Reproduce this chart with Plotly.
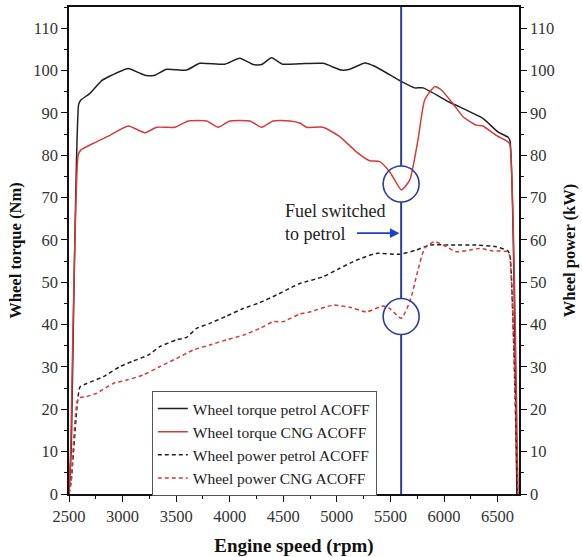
import plotly.graph_objects as go

# ---------------- data ----------------
rpm_tq_petrol = [2500, 2520, 2590, 2609, 2696, 2805, 2882, 3053, 3150, 3224, 3302, 3410, 3597, 3721,
                 3955, 4094, 4219, 4297, 4390, 4492, 4654, 4871, 5042, 5120, 5260, 5353, 5602,
                 5726, 5804, 6053, 6363, 6503, 6596, 6615, 6680]
tq_petrol = [0, 10, 92, 93.0, 94.6, 97.6, 98.7, 100.5, 99.5, 98.8, 98.9, 100.3, 100.1, 101.7,
             101.5, 102.9, 101.4, 101.4, 103.0, 101.5, 101.6, 101.7, 100.1, 100.3, 101.8, 101.0, 97.4,
             95.9, 95.9, 92.5, 88.7, 85.5, 84.3, 83.5, 0]

rpm_tq_cng = [2500, 2515, 2585, 2609, 2727, 2882, 3053, 3209, 3318, 3488, 3613, 3784, 3893, 4001,
              4188, 4297, 4405, 4561, 4654, 4716, 4871, 5027, 5182, 5307, 5400, 5493, 5602,
              5680, 5757, 5819, 5913, 5975, 6083, 6177, 6301, 6363, 6487, 6596, 6615, 6690]
tq_cng = [0, 10, 80, 81.2, 82.8, 84.7, 86.9, 85.3, 86.6, 86.6, 88.1, 88.1, 86.6, 88.1,
          88.1, 86.6, 88.1, 88.1, 87.6, 86.6, 86.6, 84.4, 80.8, 78.7, 78.5, 76.1, 71.8,
          74.1, 83.6, 93.0, 96.2, 95.4, 92.2, 89.1, 87.1, 86.9, 84.7, 83.2, 82.5, 0]

rpm_pw_petrol = [2500, 2520, 2580, 2603, 2665, 2820, 2976, 3100, 3239, 3348, 3504, 3597, 3691, 3815,
                 3970, 4125, 4281, 4437, 4561, 4654, 4871, 5027, 5182, 5368, 5585, 5741, 5866,
                 6052, 6301, 6487, 6596, 6615, 6685]
pw_petrol = [0, 3, 22, 25.3, 26.1, 27.7, 30.1, 31.4, 32.8, 34.8, 36.4, 37.0, 39.1, 40.3,
             42.0, 43.8, 45.2, 47.0, 48.6, 49.7, 51.3, 53.3, 55.2, 56.8, 56.6, 57.6, 58.8,
             58.8, 58.8, 58.4, 57.4, 56.5, 0]

rpm_pw_cng = [2500, 2520, 2587, 2665, 2758, 2913, 3038, 3193, 3348, 3504, 3659, 3815, 3970, 4125,
              4281, 4405, 4498, 4654, 4747, 4964, 5120, 5276, 5431, 5493, 5602, 5686, 5757,
              5819, 5913, 6021, 6114, 6239, 6332, 6456, 6596, 6615, 6690]
pw_cng = [0, 3, 22.6, 23.0, 23.8, 26.1, 26.9, 28.1, 30.1, 32.0, 34.0, 35.2, 36.4, 37.5,
          39.1, 40.7, 40.7, 42.5, 43.0, 44.6, 44.1, 43.0, 44.4, 43.8, 41.5, 45.8, 52.9,
          58.0, 59.6, 58.4, 57.2, 57.6, 58.0, 57.4, 57.2, 56.0, 0]

series_names = ["Wheel torque petrol ACOFF", "Wheel torque CNG ACOFF",
                "Wheel power petrol ACOFF", "Wheel power CNG ACOFF"]

switch_rpm = 5600
circle_centers = [73.2, 41.9]
x_ticks = [2500, 3000, 3500, 4000, 4500, 5000, 5500, 6000, 6500]
y_ticks = [0, 10, 20, 30, 40, 50, 60, 70, 80, 90, 100, 110]

# ---------------- style ----------------
SERIF = "Liberation Serif, Times New Roman, serif"
BLACK = "#222222"
RED = "#d63a3a"
BLUE = "#2f3d9c"

def line_style(color, dash=None):
    d = dict(color=color, width=1.5, shape="spline", smoothing=0.5)
    if dash:
        d["dash"] = dash
    return d

fig = go.Figure()
fig.add_trace(go.Scatter(x=rpm_tq_petrol, y=tq_petrol, name=series_names[0], mode="lines",
                         line=line_style(BLACK)))
fig.add_trace(go.Scatter(x=rpm_tq_cng, y=tq_cng, name=series_names[1], mode="lines",
                         line=line_style(RED)))
fig.add_trace(go.Scatter(x=rpm_pw_petrol, y=pw_petrol, name=series_names[2], mode="lines",
                         yaxis="y2", line=line_style(BLACK, "4px,3px")))
fig.add_trace(go.Scatter(x=rpm_pw_cng, y=pw_cng, name=series_names[3], mode="lines",
                         yaxis="y2", line=line_style(RED, "4px,3px")))

# vertical switch line, broken at the circles
r_x, r_y = 168, 4.25
segments = [(circle_centers[0] + r_y, 115),
            (circle_centers[1] + r_y, circle_centers[0] - r_y),
            (0, circle_centers[1] - r_y)]
for y0, y1 in segments:
    fig.add_shape(type="line", xref="x", yref="y", x0=switch_rpm, x1=switch_rpm, y0=y0, y1=y1,
                  line=dict(color=BLUE, width=2))
for cy in circle_centers:
    fig.add_shape(type="circle", xref="x", yref="y", x0=switch_rpm - r_x, x1=switch_rpm + r_x,
                  y0=cy - r_y, y1=cy + r_y, line=dict(color=BLUE, width=1.6))

fig.add_annotation(x=4495, y=64.0, xref="x", yref="y", text="Fuel switched<br>to petrol",
                   showarrow=False, xanchor="left", yanchor="middle", align="left",
                   font=dict(family=SERIF, size=18, color="#222"))
fig.add_annotation(x=switch_rpm - 15, y=61.6, xref="x", yref="y", text="", showarrow=True,
                   ax=-44, ay=0, arrowhead=2, arrowsize=1.2, arrowwidth=1.6, arrowcolor="#1f3fd0")

axis_common = dict(showline=True, linecolor="#111", linewidth=1.5, ticks="outside",
                   ticklen=6, tickwidth=1.3, tickcolor="#111", showgrid=False, zeroline=False,
                   automargin=False,
                   tickfont=dict(family=SERIF, size=16.5, color="#333"))

fig.update_layout(
    width=582, height=557,
    margin=dict(l=69, r=63, t=7, b=63),
    paper_bgcolor="white", plot_bgcolor="white",
    showlegend=True,
    legend=dict(x=0.184, y=0.2115, xanchor="left", yanchor="top",
                bordercolor="#555", borderwidth=1, bgcolor="white",
                font=dict(family=SERIF, size=15.5, color="#222"),
                tracegroupgap=0, itemwidth=30),
    xaxis=dict(range=[2500, 6700], tickvals=x_ticks, mirror=True,
               minor=dict(ticks="outside", dtick=250, ticklen=3, tickcolor="#111"),
               title=dict(text="<b>Engine speed (rpm)</b>", standoff=14,
                          font=dict(family=SERIF, size=19, color="#111")),
               **axis_common),
    yaxis=dict(range=[0, 115], tickvals=y_ticks,
               minor=dict(ticks="outside", dtick=5, ticklen=3, tickcolor="#111"),
               title=dict(text="<b>Wheel torque (Nm)</b>", standoff=7,
                          font=dict(family=SERIF, size=16.5, color="#111")),
               **axis_common),
    yaxis2=dict(range=[0, 115], tickvals=y_ticks, overlaying="y", side="right",
                minor=dict(ticks="outside", dtick=5, ticklen=3, tickcolor="#111"),
                title=dict(text="<b>Wheel power (kW)</b>", standoff=10,
                           font=dict(family=SERIF, size=16.5, color="#111")),
                **axis_common),
)

fig.write_html("out.html")
